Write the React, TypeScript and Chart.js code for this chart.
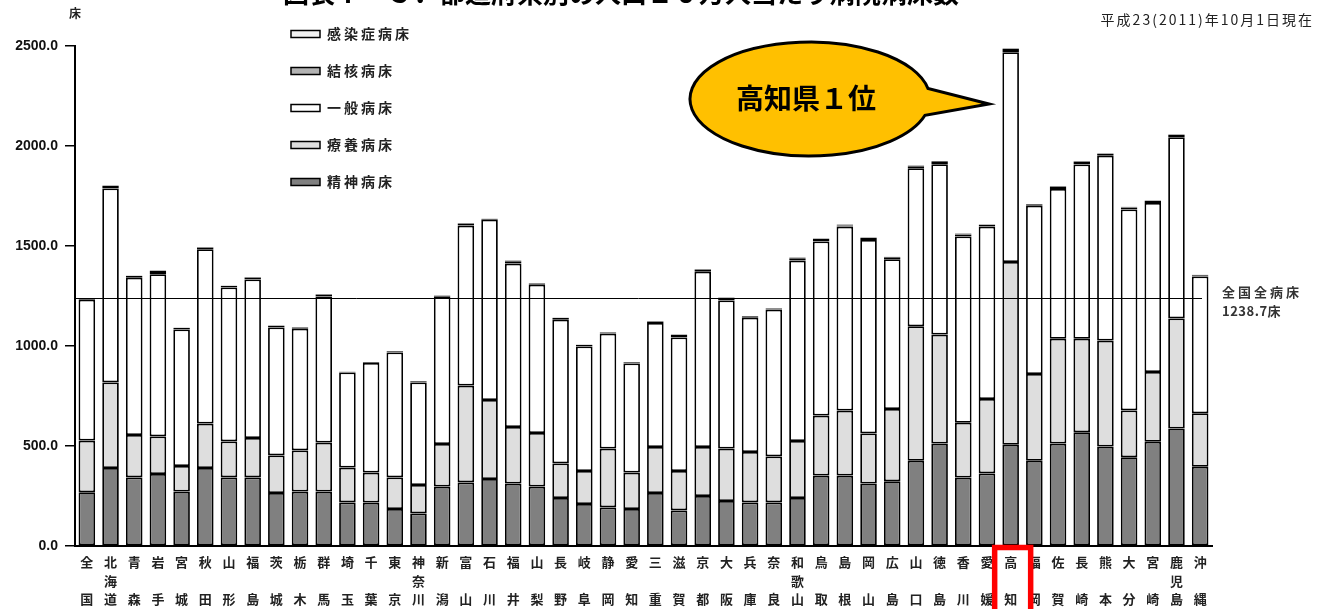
import React, { useEffect, useRef } from 'react';
import { Chart, registerables } from 'chart.js';

Chart.register(...registerables);

// ---- Data (人口10万人当たり病院病床数, 平成23年) ----
const prefNames = [
  '全国', '北海道', '青森', '岩手', '宮城', '秋田', '山形', '福島', '茨城', '栃木',
  '群馬', '埼玉', '千葉', '東京', '神奈川', '新潟', '富山', '石川', '福井', '山梨',
  '長野', '岐阜', '静岡', '愛知', '三重', '滋賀', '京都', '大阪', '兵庫', '奈良',
  '和歌山', '鳥取', '島根', '岡山', '広島', '山口', '徳島', '香川', '愛媛', '高知',
  '福岡', '佐賀', '長崎', '熊本', '大分', '宮崎', '鹿児島', '沖縄',
];

const psychBeds = [
  269, 390, 343, 360, 272, 390, 343, 343, 265, 272,
  272, 218, 217, 185, 163, 297, 318, 335, 312, 297,
  240, 210, 193, 185, 265, 178, 250, 225, 218, 218,
  240, 352, 352, 312, 324, 426, 512, 342, 363, 506,
  426, 512, 569, 497, 444, 521, 587, 396,
];

const longTermBeds = [
  258, 428, 212, 188, 128, 222, 180, 197, 188, 206,
  245, 174, 150, 158, 142, 213, 484, 395, 283, 268,
  173, 165, 294, 182, 230, 197, 245, 262, 252, 230,
  285, 300, 325, 251, 361, 673, 545, 274, 372, 914,
  434, 524, 467, 530, 234, 349, 551, 268,
];

const generalBeds = [
  704.3, 970, 786, 811, 683, 872, 770, 793, 640, 608,
  731, 476, 548, 625, 513, 736, 800, 901, 817, 741,
  718, 623, 575, 546, 620, 668, 876, 741, 671, 734,
  902, 871, 920, 967, 749, 790, 852, 932, 862, 1049,
  841, 749, 872, 924, 1005, 845, 906, 684,
];

const tuberculosisBeds = [
  6.0, 12, 10, 16, 8, 8, 8, 10, 7, 7,
  10, 3, 4, 6, 6, 4, 10, 5, 12, 6,
  10, 8, 6, 6, 8, 12, 12, 14, 8, 6,
  12, 12, 6, 10, 10, 10, 12, 10, 8, 18,
  8, 12, 14, 10, 10, 10, 12, 6,
];

const infectiousBeds = [
  1.4, 2, 2, 3, 2, 3, 2, 2, 2, 2,
  2, 1, 1, 1, 1, 2, 3, 2, 3, 3,
  2, 2, 2, 1, 2, 2, 2, 1, 1, 2,
  3, 2, 5, 3, 2, 3, 4, 4, 3, 1.5,
  1, 3, 3, 3, 3, 3, 3, 2,
];

const yMin = 0;
const yMax = 2500;
const yStep = 500;
const nationalTotal = 1238.7;
const highlightIndex = 39; // 高知

const titleText = '図表Ⅰ－３．都道府県別の人口１０万人当たり病院病床数';
const dateText = '平成23(2011)年10月1日現在';
const unitText = '床';
const refLabel1 = '全国全病床';
const refLabel2 = '1238.7床';
const calloutText = '高知県１位';

const seriesNames = ['精神病床', '療養病床', '一般病床', '結核病床', '感染症病床'];
const seriesColors = ['#808080', '#dedede', '#ffffff', '#b3b3b3', '#f2f2f2'];

const JP = '"Noto Sans CJK JP", "Noto Sans", sans-serif';

export default function App() {
  const canvasRef = useRef<HTMLCanvasElement>(null);

  useEffect(() => {
    if (!canvasRef.current) return;
    const labels = prefNames.map((n) => {
      const c = Array.from(n);
      return c.length === 3 ? c : [c[0], '', c[1]];
    });
    const seriesData = [psychBeds, longTermBeds, generalBeds, tuberculosisBeds, infectiousBeds];
    const datasets = seriesData.map((d, i) => ({
      label: seriesNames[i],
      data: d,
      backgroundColor: seriesColors[i],
      borderColor: '#000',
      borderWidth: 1.8,
      borderSkipped: false as const,
      barPercentage: 0.7,
      categoryPercentage: 1,
    }));

    const overlay = {
      id: 'overlay',
      afterDatasetsDraw(chart: any) {
        const { ctx, chartArea, scales } = chart;
        const y = Math.round(scales.y.getPixelForValue(nationalTotal)) + 0.5;
        ctx.save();
        ctx.strokeStyle = '#000';
        ctx.lineWidth = 1;
        ctx.beginPath();
        ctx.moveTo(chartArea.left, y);
        ctx.lineTo(chartArea.right - 10, y);
        ctx.stroke();
        ctx.restore();
      },
      afterDraw(chart: any) {
        const { ctx, chartArea, scales } = chart;
        ctx.save();
        // title (cut off at top)
        ctx.fillStyle = '#000';
        ctx.font = `bold 26px ${JP}`;
        ctx.textAlign = 'center';
        ctx.textBaseline = 'alphabetic';
        ctx.fillText(titleText, 621, 3);

        // date
        ctx.font = `14px ${JP}`;
        ctx.fillStyle = '#222';
        ctx.textAlign = 'right';
        ctx.textBaseline = 'middle';
        (ctx as any).letterSpacing = '2px';
        ctx.fillText(dateText, 1314, 20);
        (ctx as any).letterSpacing = '0px';

        // unit
        ctx.font = `bold 12px ${JP}`;
        ctx.textAlign = 'center';
        ctx.fillStyle = '#222';
        ctx.fillText(unitText, 75, 13);

        // legend
        const legendOrder = [4, 3, 2, 1, 0];
        legendOrder.forEach((si, k) => {
          const ly = 34 + k * 37;
          ctx.fillStyle = seriesColors[si];
          ctx.fillRect(291, ly - 3.5, 29, 7);
          ctx.strokeStyle = '#000';
          ctx.lineWidth = 1.5;
          ctx.strokeRect(291, ly - 3.5, 29, 7);
          ctx.fillStyle = '#222';
          ctx.font = `bold 14px ${JP}`;
          ctx.textAlign = 'left';
          ctx.textBaseline = 'middle';
          (ctx as any).letterSpacing = '3px';
          ctx.fillText(seriesNames[si], 327, ly);
          (ctx as any).letterSpacing = '0px';
        });

        // reference label
        const ry = scales.y.getPixelForValue(nationalTotal);
        ctx.fillStyle = '#333';
        ctx.font = `bold 13px ${JP}`;
        ctx.textAlign = 'left';
        ctx.textBaseline = 'middle';
        (ctx as any).letterSpacing = '3px';
        ctx.fillText(refLabel1, 1222, ry - 6);
        (ctx as any).letterSpacing = '0.5px';
        ctx.fillText(refLabel2, 1222, ry + 13);
        (ctx as any).letterSpacing = '0px';

        // callout bubble
        const cx = 810, cy = 99, rx = 120, ry2 = 57;
        const t1 = -0.184, t2 = 0.29;
        const tipX = 989, tipY = 104;
        ctx.beginPath();
        ctx.moveTo(tipX, tipY);
        ctx.lineTo(cx + rx * Math.cos(t1), cy + ry2 * Math.sin(t1));
        ctx.ellipse(cx, cy, rx, ry2, 0, t1, t2, true);
        ctx.closePath();
        ctx.fillStyle = '#FFC000';
        ctx.fill();
        ctx.strokeStyle = '#000';
        ctx.lineWidth = 3;
        ctx.lineJoin = 'miter';
        ctx.stroke();
        ctx.fillStyle = '#000';
        ctx.font = `bold 28px ${JP}`;
        ctx.textAlign = 'center';
        ctx.textBaseline = 'middle';
        ctx.fillText(calloutText, 806, 98);

        // red highlight box around 高知 label
        const hx = scales.x.getPixelForValue(highlightIndex);
        ctx.strokeStyle = '#ff0000';
        ctx.lineWidth = 5.5;
        ctx.strokeRect(hx - 16, chartArea.bottom + 1.5, 36, 80);
        ctx.restore();
      },
    };

    const chart = new Chart(canvasRef.current, {
      type: 'bar',
      data: { labels, datasets },
      options: {
        responsive: false,
        animation: false,
        layout: { padding: { top: 46, right: 115, left: 0, bottom: 0 } },
        plugins: { legend: { display: false }, tooltip: { enabled: false } },
        scales: {
          x: {
            stacked: true,
            grid: { display: false, drawTicks: false },
            border: { display: true, color: '#000', width: 2 },
            ticks: {
              autoSkip: false,
              maxRotation: 0,
              minRotation: 0,
              padding: 7,
              color: '#222',
              font: { family: JP, size: 13, weight: 'bold', lineHeight: 1.42 },
            },
            afterFit: (s: any) => { s.height = 63; },
          },
          y: {
            stacked: true,
            min: yMin,
            max: yMax,
            ticks: {
              stepSize: yStep,
              padding: 7,
              color: '#111',
              font: { family: '"Liberation Sans", Arial, sans-serif', size: 14, weight: 'bold' },
              callback: (v: any) => Number(v).toFixed(1),
            },
            grid: { drawOnChartArea: false, color: '#000', lineWidth: 1.5, tickLength: 10 },
            border: { display: true, color: '#000', width: 2 },
            afterFit: (s: any) => { s.width = 75; },
          },
        },
      },
      plugins: [overlay],
    });
    return () => chart.destroy();
  }, []);

  return (
    <div style={{ position: 'fixed', left: 0, top: 0, width: 1327, height: 609, background: '#fff' }}>
      <canvas ref={canvasRef} width={1327} height={609} style={{ display: 'block' }} />
    </div>
  );
}
